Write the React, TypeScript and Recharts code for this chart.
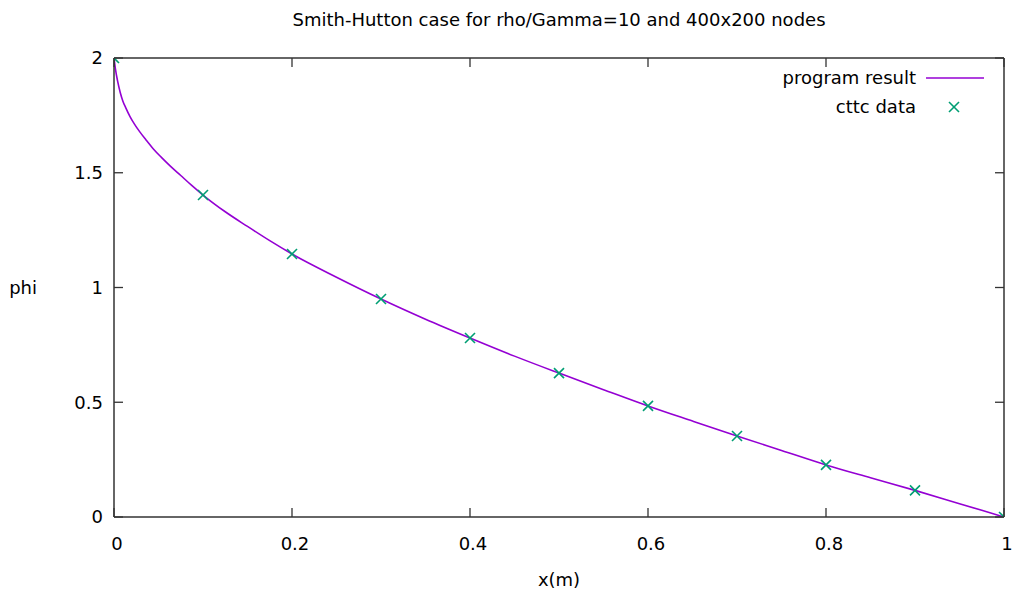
import {
  ComposedChart,
  Legend,
  Line,
  Scatter,
  XAxis,
  YAxis,
} from "recharts"

// program result (curve)
const resultX = [0, 0.0015, 0.004, 0.007, 0.01, 0.013, 0.018, 0.023, 0.029, 0.036, 0.044, 0.053, 0.063, 0.075, 0.087, 0.1, 0.125, 0.15, 0.175, 0.2, 0.25, 0.3, 0.35, 0.4, 0.45, 0.5, 0.55, 0.6, 0.65, 0.7, 0.75, 0.8, 0.85, 0.9, 0.95, 1]
const resultPhi = [2, 1.955, 1.9, 1.85, 1.812, 1.785, 1.745, 1.712, 1.678, 1.643, 1.605, 1.568, 1.53, 1.488, 1.446, 1.403, 1.33, 1.266, 1.204, 1.146, 1.045, 0.95, 0.862, 0.78, 0.701, 0.627, 0.555, 0.484, 0.418, 0.353, 0.29, 0.227, 0.171, 0.116, 0.058, 0]

// cttc reference data
const cttcX = [0, 0.1, 0.2, 0.3, 0.4, 0.5, 0.6, 0.7, 0.8, 0.9, 1]
const cttcPhi = [2, 1.403, 1.146, 0.95, 0.78, 0.627, 0.484, 0.353, 0.227, 0.116, 0]

const xTicks = [0, 0.2, 0.4, 0.6, 0.8, 1]
const yTicks = [0, 0.5, 1, 1.5, 2]

const FONT = "'DejaVu Sans', Verdana, sans-serif"
const BORDER = "#333"
const LINE_COLOR = "#9400d3"
const MARK_COLOR = "#009e73"

const resultData = resultX.map((x, i) => ({ x, phi: resultPhi[i] }))
const cttcData = cttcX.map((x, i) => ({ x, phi: cttcPhi[i] }))

const XTick = ({ x, y, payload, dir, showLabel }: any) => (
  <g>
    <line x1={x} x2={x} y1={y} y2={y - 9 * dir} stroke={BORDER} strokeWidth={1.3} />
    {showLabel && (
      <text x={x + 3} y={y + 33} textAnchor="middle" fontSize={18} fontFamily={FONT} fill="#000">
        {payload.value}
      </text>
    )}
  </g>
)

const YTick = ({ x, y, payload, dir, showLabel }: any) => (
  <g>
    <line x1={x} x2={x + 9 * dir} y1={y} y2={y} stroke={BORDER} strokeWidth={1.3} />
    {showLabel && (
      <text x={x - 11} y={y} dy="0.36em" textAnchor="end" fontSize={18} fontFamily={FONT} fill="#000">
        {payload.value}
      </text>
    )}
  </g>
)

const CrossMark = ({ cx, cy }: any) => {
  if (cx == null || cy == null) return <g />
  const s = 5
  return (
    <g stroke={MARK_COLOR} strokeWidth={1.6}>
      <line x1={cx - s} y1={cy - s} x2={cx + s} y2={cy + s} />
      <line x1={cx - s} y1={cy + s} x2={cx + s} y2={cy - s} />
    </g>
  )
}

const LegendBox = () => (
  <div style={{ fontFamily: FONT, fontSize: 18, color: "#000" }}>
    <div style={{ display: "flex", alignItems: "center", justifyContent: "flex-end", height: 29 }}>
      <span>program result</span>
      <svg width={68} height={10} style={{ marginLeft: 10 }}>
        <line x1={0} x2={58} y1={5} y2={5} stroke={LINE_COLOR} strokeWidth={1.6} />
      </svg>
    </div>
    <div style={{ display: "flex", alignItems: "center", justifyContent: "flex-end", height: 29 }}>
      <span>cttc data</span>
      <svg width={68} height={14} style={{ marginLeft: 10 }}>
        <CrossMark cx={28} cy={7} />
      </svg>
    </div>
  </div>
)

const App = () => {
  return (
    <div style={{ position: "absolute", left: 0, top: 0, width: 1012, height: 597, background: "#fff" }}>
      <div
        style={{
          position: "absolute",
          top: 9,
          left: 114,
          width: 890,
          textAlign: "center",
          fontFamily: FONT,
          fontSize: 18,
          color: "#000",
        }}
      >
        Smith-Hutton case for rho/Gamma=10 and 400x200 nodes
      </div>
      <ComposedChart width={1012} height={597} margin={{ top: 57, right: 7, bottom: 50, left: 54 }}>
        <XAxis
          dataKey="x"
          type="number"
          domain={[0, 1]}
          ticks={xTicks}
          height={30}
          tickSize={0}
          tickMargin={0}
          axisLine={{ stroke: BORDER, strokeWidth: 1.5 }}
          tickLine={false}
          allowDataOverflow
          tick={(p: any) => <XTick {...p} dir={1} showLabel />}
          label={{ value: "x(m)", position: "bottom", offset: 26, fontSize: 18, fontFamily: FONT, fill: "#000" }}
        />
        <XAxis
          xAxisId="top"
          orientation="top"
          dataKey="x"
          type="number"
          domain={[0, 1]}
          ticks={xTicks}
          height={1}
          tickSize={0}
          tickMargin={0}
          axisLine={{ stroke: BORDER, strokeWidth: 1.5 }}
          tickLine={false}
          allowDataOverflow
          tick={(p: any) => <XTick {...p} dir={-1} showLabel={false} />}
        />
        <YAxis
          dataKey="phi"
          type="number"
          domain={[0, 2]}
          ticks={yTicks}
          width={60}
          tickSize={0}
          tickMargin={0}
          axisLine={{ stroke: BORDER, strokeWidth: 1.5 }}
          tickLine={false}
          allowDataOverflow
          tick={(p: any) => <YTick {...p} dir={1} showLabel />}
          label={{ value: "phi", position: "left", offset: 17, fontSize: 18, fontFamily: FONT, fill: "#000" }}
        />
        <YAxis
          yAxisId="right"
          orientation="right"
          dataKey="phi"
          type="number"
          domain={[0, 2]}
          ticks={yTicks}
          width={1}
          tickSize={0}
          tickMargin={0}
          axisLine={{ stroke: BORDER, strokeWidth: 1.5 }}
          tickLine={false}
          allowDataOverflow
          tick={(p: any) => <YTick {...p} dir={-1} showLabel={false} />}
        />
        <Legend
          layout="horizontal"
          verticalAlign="middle"
          align="center"
          content={() => <LegendBox />}
          wrapperStyle={{ position: "absolute", top: 63, left: 611, width: 383 }}
        />
        <Line
          data={resultData}
          dataKey="phi"
          name="program result"
          type="monotone"
          stroke={LINE_COLOR}
          strokeWidth={1.6}
          dot={false}
          activeDot={false}
          isAnimationActive={false}
        />
        <Scatter
          data={cttcData}
          dataKey="phi"
          name="cttc data"
          shape={<CrossMark />}
          isAnimationActive={false}
        />
      </ComposedChart>
    </div>
  )
}

export default App
